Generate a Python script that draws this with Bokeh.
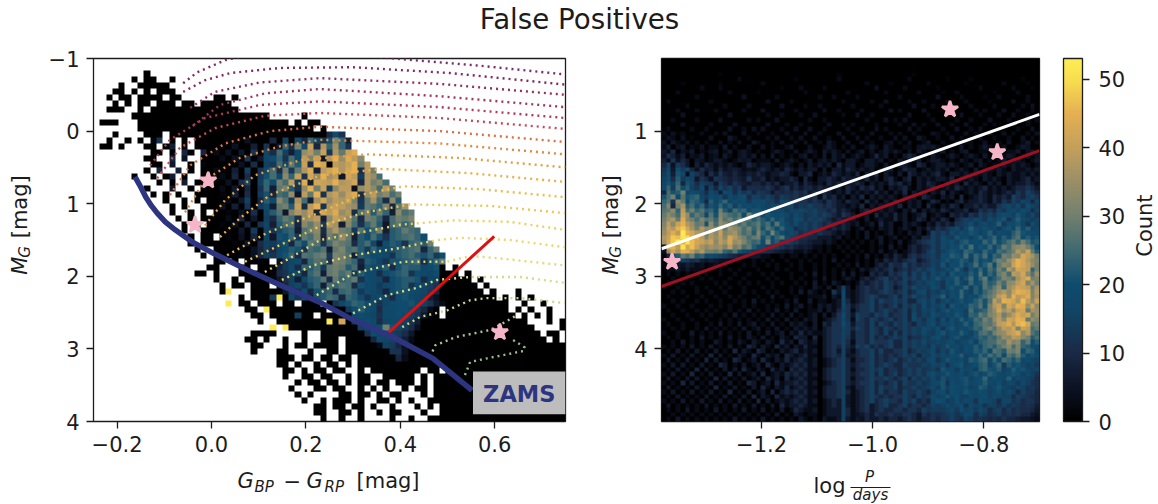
from math import pi
import numpy as np
from bokeh.core.properties import value
from bokeh.embed import file_html
from bokeh.layouts import column, row
from bokeh.models import ColorBar, FixedTicker, Label, LinearColorMapper, Range1d
from bokeh.plotting import figure
from bokeh.resources import INLINE

TITLE = "False Positives"
CMD_TICKS_X = [-0.2, 0.0, 0.2, 0.4, 0.6]
CMD_TICKS_Y = [-1, 0, 1, 2, 3, 4]
PER_TICKS_X = [-1.2, -1.0, -0.8]
PER_TICKS_Y = [1, 2, 3, 4]
CB_TICKS = [0, 10, 20, 30, 40, 50]
COUNT_MAX = 53

# Cell counts, one character per cell, base 36, in steps of 1.5 counts. Blank = empty bin.
CMD_ROWS = [
"", "",
"        0",
"      0 00|  0",
"    0  000|00",
"   00 0 0 |000",
"  0 00 000|0 00     0|0 0",
"   0 0 00 |000 00 000|00",
"  000  0 0|0000000000|000",
"      0000|0000000000|00000000  |   0",
" 000   000|0000000000|0000000000|0 0 00",
"       000|0000000000|0000000000|00000 0",
"   0    00|0 00000000|0000000000|00000007d8",
"  0  0 0 1|8 0 0 0000|0100300060|a0c6ga8dlg|5",
" 00 0   00| 05 0 0000|1030050804|g7kcr6pgog|8",
"         0|0 0 60 602|0304080b7h|a5cnpkr9pj|rt",
"        00|  6 3  000|2030804bdg|8hcqlr4pun|tqm",
"         0|0 4  0 100|0103070a9h|cjfr7us0qp|rukq",
"        0 |6  5 0 002|1050a08ch7|k9jpt5qsup|su7qk",
"      0  0| 05 0  010|2060709ehc|mgr8snuoq4|sq9pnh",
"          |0 0 5 00 0|0307b0agdk|hq9t5srqup|qs6pkmh",
"        0 |  4  0 100|2040608g5j|lf8nukr9mq|q3npmhqk",
"         0| 0 0  0000|1050709e6h|gn4qju8prn|rt7nqkmhk",
"          | 0  0 0 00|0204a06fcm|i9ph5osnqp|rl8joh7mf",
"          |  0 0  000|3050809c5j|kfr7qu8prq|on9jigl6jo",
"          |  0  0 0 0|0103070bfi|4lpnr6sqtn|p7ilfkg5mh|j",
"          |   0 0 000|0206040a7g|jh8noq5mrp|ni7kjg6hkj|l",
"          |    0 0 00|1030608b5f|hi6mjn9qo5|mh8gjf4hjg|i",
"          |    0  000|0104090a8c|fg5ikm7lpk|j9iegk5fgj|hg",
"          |     0 00 |0103060b4e|dg9jhl6kin|j5fdhe8fgh|igd",
"          |     0 000|0010407a9c|e6gdji8hlj|i7fhc5dfe8|ghfk",
"          |      0  0|0001036a7b|dfe8hgi5jl|hif9gdcefg|hi6gj",
"          |       0 0|0001036a8c|eg7ihjk9lk|i5feddc8fg|hfeg9d",
"          |         0|0 0 0010 3|9bd6gih8lk|ig6feb8eef|gh7egj",
"          |        00|   00 0016|9c7gfh9jkj|fh5ecdf7eg|ffcde0 0",
"          |      00 0|   0000017|8bd6gi5jkh|j9fdc7defg|8dcbd000 0",
"          |         0|  0 000014|7a5cfgi7jg|hj8dcb6def|fe7ba00000| 0",
"          |          |0 00 000 3|6ac8eg5hgi|h7ecc9cdef|8cba800000|0 0",
"          |          |0z   00000|4a8d6efg7g|hf9dca6dee|dcb9600000|00 0   0",
"          |          |   0 0009z|0c8d5efhg6|gfd8bcb7de|cba5300000|0000 0 0 0",
"          |          | z 00 000 |00 000 08c|egfdc8bcdd|eba8420000|000000  0 | 0",
"          |          |    00 z00|0000000 00|9dfdc7ccdd|b9620 0000|000000 0 0|  0",
"          |          |     00 00|00a00 0000|0cdcb8ccdc|a8410 0000|0000000 0 |0 0",
"          |          |      0  0|0000000z0s|09cdc7bcca|8500000000|000000000 |  0 0",
"          |          |        z |z000000000|00acbdkeb9|7300000000|0000000000|    0",
"          |          |     0000 |   0  0000|0008dbda97|4000000000|0000000000|0 00",
"          |          |    00 0  |0  0  000 |00006cba85|2000000000|0000000000|00 0 ",
"          |          |     00   |0 00 0000 |000002a963|1000000000|0000000000|00000",
"          |          |     0   0|0   0  00 |0000000883|0000000000|0000000000|00000",
"          |          |         0|00 00 00 0|0 00000062|0000000000|0000000000|00000",
"          |          |         0|0 0  0 00 |0 00000000|0000000000|0000000000|00000",
"          |          |          |00 0 00 00|  0 000000|00 00 0000|0000000000|00000",
"          |          |          |0  00 00  |0 00  0000|0 0 000000|0000000000|00000",
"          |          |          |  0 00 00 |0 00 00 00|0 0 000000|0000000000|00000",
"          |          |          | 0   00 00|  0 0 0  0| 00 000000|0000000000|00000",
"          |          |          |  0 0    0|0 00 0 00 |  0 000000|0000000000|00000",
"          |          |          |   0  0 00|0 0  00 0 |0  0000000|0000000000|00000",
"          |          |          |     00 00| 00 0  0  | 0 0 00000|0000000000|00000",
"          |          |          |     00  0|0 0  0 00 |  0  00000|0000000000|00000",
"          |          |          |      0  0|  0    0  |0  0000000|0000000000|00000",
]

PER_ROWS = [
"", "", "",
"0000000000|0010000000|0000000000|0000000100|0000000000|0001000000|0000000000|0000000000",
"0000000000|0000002000|0000000010|0000000200|0000000000|0020000000|1000010000|0000001000",
"0000100000|0010000000|0200000000|0000000000|0002000010|0000002000|0000100000|0020000100",
"0000000020|0020000000|0000010002|0000200000|0000030000|0200000010|0000000200|0000200010",
"0002000000|0000200000|1000000000|2000000002|0000000200|0000200001|0020000000|1000020000",
"0000000200|0000000300|0000200000|0002002000|0200000000|2000000030|0002000010|0200000200",
"0200000000|2000000000|0030000200|0000000020|0000200300|0020020000|2000200001|0000300200",
"0000020000|0002000020|0000030000|2002000000|2000002000|0003000201|0000020000|2000002030",
"0002000200|0200000200|0300000020|0000300200|0020000030|2000030000|0200002020|0030020020",
"0000300000|0000300000|0020020002|0030000020|0300200000|0030002000|2003000200|0200300200",
"0020000200|0030000020|2000300000|0200200000|0002000302|0300000200|0020020003|0002000302",
"0000300000|2000030000|0030002002|0000030020|2000020000|2003020030|0200300020|2000300200",
"0200002002|0000300203|0300020030|0300200002|0020030200|0030200002|0030020300|0200020030",
"2031200020|0203000300|2002003000|3002000300|2000300020|2002000320|2000302003|0030200203",
"1320301000|3000420020|0020300203|0030020030|0302002003|0300420020|0302000300|2002003020",
"3042130202|0030203004|2002030020|3002042003|0030200230|2030024002|0030220030|0203002402",
"2503402130|2204020030|0302002400|0300242020|3002420420|0220343420|2004020242|0030024300",
"4260324021|3402403420|2002420030|2420424203|0240302424|2030420024|0203400220|2402240340",
"3752503240|2304203424|0304020203|4020404240|2420262402|0464020420|2420242040|2024302403",
"5283640431|2442024340|2220402420|2403424204|4204424020|4242402442|0204203402|0240242024",
"6a39740526|4242420264|2442024203|0424240624|4024420402|4420640244|2420240420|2042424202",
"8b4d9c6374|5263454232|4642426424|2440404426|4242402440|2644024242|4024204024|2420422424",
"9d5eb3a862|7485464354|6424465204|4602426424|2604260420|4064242462|0442424242|0424224242",
"ad7f9ca486|3876565484|4624244640|6204464264|4226240462|0460424244|2604242042|4204224624",
"beag6eb7a9|8497586546|6464624462|6424264624|4640424264|6240426420|4240624204|2404244642",
"cg9hdfa8c5|a6b8a79477|7686468464|6646442426|4264624042|4620424602|4264242462|4242466864",
"6hefkbdca7|ca5cb7b8a6|9874767686|8464642426|2424262404|2604240426|0420242642|4246486a86",
"ehkciefgb9|dbd8cacd7a|a8a8698786|6682846240|4260424242|0424064204|2406024642|6464a869a8",
"gi8mjcgfd6|fbegbdbc9c|bcaa7ba898|8686486426|4406240426|0242402640|2046244642|6486a8ba6a",
"hl6kofheg9|ecgdfaecdb|dbacb8ab79|8a88686442|4260424242|6042406204|2640446464|48ab9c8da9",
"ijmgqhkgif|gdkfbhfgce|ecdacb9bab|a9a8868464|2046204242|0426042426|4244624868|6a8bcadb7a",
"jmkhrngjhb|ieljhgidkf|gbedcdb9ca|89a8a86486|4024062426|2402460242|0646486a8a|8bdcaeb9c8",
"knpjtmkhli|jgmikhkgif|hfdgcea9db|8a9a864642|4204024226|2402640426|4068a9ba8c|ade8cfcb9a",
"lqmrupnjke|mhnlikhjgh|jfhdieb9c9|a8a8686464|2402406240|0424204264|6489ad9bca|bf9dceb8da",
"mrpuwsokpm|nkqjomlhkg|jeigdgcb79|a8a8646464|0240204240|2420426486|8ac8bfcbdb|c9debgcfab",
"nqtqzuspoj|pmrlnokhjf|lgekfdaca7|9868664242|0204020240|2042404a8a|8cadbedacf|adcbfhedcb",
"prwvyxtuql|pnqmspmkhj|kehdgica97|7664442402|0204024024|0204266a8c|a9ebcadfbe|gbfdgidfce",
"oswzuyvsrp|rmqosnolig|hdkdfac986|6544242020|2020204020|4024689a8c|bdaefcdcge|hdfhjgkhef",
"4tuqysvrom|onolqkmhjf|dcaa986754|5422020202|0200202040|2046467a8c|adcfdhcedg|cfjhlmnkhd",
"3nroutqmpk|kjlgfieba9|9876543422|4202020020|2020204024|0246469b8a|cedbgfdcge|dhgikpmrjf",
"16dfjhkfgc|dba9765644|4220020220|2020202002|0204020426|4268689a8d|cfedhbgehc|gfkjnmsqok",
"1268a97854|5433322002|0202002002|0200204020|0202042646|4689468a9c|ebdfeagced|hkjnquspml",
"1224354231|2322000202|0020200202|0020200202|0402046486|6a68688a9e|9dcfbehdfi|djmlrusqnk",
"0224242220|2020202000|2000202002|0020202020|2042464684|6868a8ac9a|dbfc8ecgdh|fkhpmsrqgk",
"0202020202|0020020020|0202000200|2040202040|4020646486|8a6a8b8cad|9ecdbfdicg|ejlhqpsmin",
"0020200020|2000200200|0020200202|0020402024|2046468a68|6a8a8c9bea|cdfaehcgjd|fhlkiortkl",
"0200202000|0202002020|2002020020|2040204202|0264686a86|8a68a9bca8|dbfcagdeif|gkhmnqslok",
"2002000202|0020200200|0202000202|00420404a4|0468686a84|6a8c9a9db8|cebdgafcig|jmgnpsrqko",
"0020200200|2002000202|0020200204|04202084b4|2468668a86|8a68bc8a9c|adbgcafdgi|knpmrutslp",
"0200020020|0200202000|2004020020|02224042c4|2468a8668a|6a8c9a8bcf|9dcgbdcfhj|lqsnuqrtlo",
"0020200202|0020020204|0202002040|04022024b6|2468a6a88a|8a66ac9c8b|dacebdfhei|qnutspvqmr",
"2002002000|2020200202|0020204024|02042424b8|4688a6868a|6a8a8c9bad|8ecbdgfiek|prlsqutnrm",
"0200200202|0200202040|2020402040|02240426a8|2688a68a86|8a6a8bac9c|ebdcahefgk|nsoqmrsjon",
"0020020020|2002040202|0204020402|02404048c8|4a886a8a68|8a6c8a9dba|cbedagfjhl|mpknqtrskn",
"2002002002|0020202020|2040204020|42402468b8|2a86a868a6|8a6ca8bc8d|9dbfcehgki|nqmsrutjnl",
"0200200200|2040204024|0204020424|20406488c9|4886a6a86a|8a86a9bd9c|bdacfdghji|lqrtpuvsjk",
"0020200204|0202020402|4020402042|42404688a9|6a86a86a86|8a8a9cbad8|cebdcegfjl|imqpslrqhj",
"2002004020|2040202040|2040240426|24224688a9|4886a86a6a|6a8a9ca9ce|acbfdaehig|kmnqrtmpig",
"0202002040|2020402042|0402042064|40604688a8|4886a6868a|8a688a9cda|9cebacegfh|gjnmqpmkfh",
"0020402020|0420204204|2042062406|42404688a7|2886a888a6|6a8a9c9aba|cdabceafgh|hkjolmgjdf",
"2020204020|4020402064|0420624042|62204686a6|4a8a6868a6|6a8a9a8c9a|ebcadcfdgh|fikmhlgfdc",
"0204020402|0402060420|6402042462|42404684a5|2688a6a668|8a68a9ac8b|9ebadcfegd|ihfkjldgfb",
"2040204020|6040204206|2042406424|62204686a4|4688a68686|8a8a6a9cac|adcfabdgeh|fhdigjfced",
"0402040206|0402064024|0620426246|42402468a6|2668a6868a|68a8a8bc8a|ecbdafeghc|gdhgegcdba",
"2040402040|2064020402|4062042464|62402468a6|4688a68a86|6a888a9bac|8bdeacdfgb|eg9fdecab9",
"0204020604|0204040620|4206240646|42204688a6|2668a8a688|68a8a89a8e|bc9dbcafge|dfacfdebab",
"2040206020|4020604024|0602426464|62404688a6|4688a6a68a|68a8a8bdab|ecbdacebdf|ecbdedaca8",
"0402040402|0604020402|4062406246|42204688a6|2668a88a86|8a6a8a9c9e|acbdeacdgb|dcbfacba97",
"2020604020|4020402064|0240624464|62402468a6|4688a6868a|6a88a89bce|8dbcebcdfc|bdacb9ca87",
"0402020402|0602040204|0620426246|42204668a4|2668a6a88a|688a89ac9e|adcbdabfea|ceba9ba897",
"2040204020|4020602040|2406046464|62404668a6|2468a6a688|6a88a86acd|9dcbecbdca|bdaca7a886",
"0204020204|0204020406|0420624246|42204668a4|2468a86868|8a86a89cab|ebdaacbcda|cbaa7a9876",
"2020402040|2040204020|6040242464|62402464a4|2468a68a88|6a8a686bdc|9adacb8dcb|a7bb897886",
"0402020204|0202040204|0204062446|42202464a4|2468468a66|8a68868a9a|cabd8cab8a|a8a8987875",
"0202040202|0402020402|0402040264|22402444a6|2468468668|86886a8999|ab9dab9ca7|9a79787764",
"0020202020|2020202020|2020402042|02202444a6|2346486686|6886486878|9a89cb7a97|8978786643",
"0204020202|0202040202|0402020204|20204224a4|2436446466|4686466868|8a87a97876|7686654432",
]

ISO_X = [
 [-0.06,-0.03,0.03,0.09,0.2,0.385,0.57,0.75],
 [-0.06,-0.014,0.04,0.145,0.30,0.505,0.75],
 [-0.045,0.007,0.103,0.23,0.484,0.75],
 [-0.04,0.018,0.113,0.23,0.484,0.75],
 [-0.13,-0.088,-0.014,0.103,0.23,0.484,0.75],
 [-0.115,-0.067,0.007,0.113,0.23,0.484,0.75],
 [-0.088,-0.045,0.029,0.124,0.23,0.484,0.75],
 [-0.056,-0.014,0.06,0.145,0.23,0.484,0.75],
 [-0.014,0.029,0.092,0.188,0.329,0.527,0.75],
 [0.018,0.06,0.124,0.23,0.363,0.548,0.75],
 [0.033,0.118,0.23,0.315,0.406,0.569,0.749],
 [0.071,0.145,0.23,0.325,0.42,0.59,0.749],
 [0.113,0.166,0.23,0.321,0.40,0.512,0.632,0.749],
 [0.149,0.215,0.30,0.40,0.478,0.527,0.632,0.749],
 [0.223,0.30,0.406,0.499,0.548,0.605,0.749],
 [0.30,0.372,0.435,0.478,0.548,0.654,0.749],
 [0.404,0.442,0.499,0.548,0.584,0.654,0.749],
 [0.463,0.474,0.516,0.59,0.622,0.643],
 [0.537,0.548,0.584,0.66,0.664,0.632],
]
ISO_Y = [
 [-0.66,-0.81,-0.98,-1.06,-1.1,-1.0,-0.9,-0.78],
 [-0.54,-0.70,-0.80,-0.87,-0.88,-0.80,-0.64],
 [-0.32,-0.54,-0.67,-0.73,-0.65,-0.50],
 [-0.07,-0.36,-0.52,-0.58,-0.48,-0.33],
 [0.47,0.12,-0.18,-0.36,-0.41,-0.33,-0.18],
 [0.65,0.23,-0.04,-0.21,-0.25,-0.18,-0.03],
 [0.88,0.47,0.17,0.0,-0.06,0.0,0.15],
 [1.12,0.675,0.37,0.21,0.12,0.17,0.32],
 [1.30,0.95,0.61,0.40,0.32,0.37,0.50],
 [1.46,1.20,0.88,0.61,0.52,0.58,0.70],
 [1.71,1.40,1.12,0.88,0.76,0.80,0.91],
 [1.80,1.57,1.31,1.12,1.01,1.03,1.13],
 [1.94,1.75,1.50,1.39,1.29,1.23,1.25,1.36],
 [2.05,1.85,1.71,1.61,1.50,1.47,1.50,1.60],
 [2.26,1.96,1.80,1.80,1.72,1.75,1.85],
 [2.51,2.26,2.16,2.05,2.01,2.01,2.09],
 [2.70,2.56,2.47,2.33,2.30,2.30,2.37],
 [3.11,2.95,2.84,2.74,2.63,2.55],
 [3.36,3.18,3.13,3.03,2.98,2.85],
]
ISO_COLORS = ["#7a2a66","#86295f","#92305f","#a0345c","#b2395a","#c94a56","#dd7040","#e58a3c",
              "#ea9d3c","#edb040","#eebd48","#eec850","#ecd25c","#e8d968","#e2dc74","#d8dc80",
              "#c6d68a","#a8c890","#96bf8e"]

ZAMS_X = [-0.162,-0.15,-0.139,-0.127,-0.115,-0.098,-0.077,-0.04,0.003,0.075,0.145,0.23,0.30,0.385,0.469,0.552]
ZAMS_Y = [0.63,0.77,0.91,1.03,1.13,1.25,1.36,1.53,1.68,1.91,2.12,2.36,2.60,2.84,3.13,3.57]
CUT_X = [0.376, 0.599]
CUT_Y = [2.77, 1.45]
STAR_COLOR = [-0.007, -0.035, 0.611]
STAR_MAG = [0.68, 1.29, 2.77]
STAR_LOGP = [-0.861, -0.776, -1.361]
STAR_MAG2 = [0.70, 1.29, 2.80]
WHITE_X = [-1.38, -0.70]
WHITE_Y = [2.62, 0.77]
DARKRED_X = [-1.38, -0.70]
DARKRED_Y = [3.14, 1.27]

CMAP_STOPS = [0, 5, 10, 16, 20, 25, 30, 35, 40, 45, 50, 53]
CMAP_COLORS = ["#000000", "#0d1425", "#1b2a47", "#124565", "#0f4c6e", "#3f6a72",
               "#72806f", "#9a8f68", "#c4a05c", "#e5b052", "#f9de50", "#ffee55"]
FONT = "DejaVu Sans"
INK = "#1c1c1c"
UPSCALE = 8
BASELINE_SHIFT = 0.38


def palette():
    rgb = np.array([[int(c[i:i + 2], 16) for i in (1, 3, 5)] for c in CMAP_COLORS], float)
    t = np.linspace(0, COUNT_MAX, 256)
    ch = [np.interp(t, CMAP_STOPS, rgb[:, k]) for k in range(3)]
    return ["#%02x%02x%02x" % (int(r), int(g), int(b)) for r, g, b in zip(*ch)]


def parse(rows, ncol, pad):
    out = []
    for rw in rows:
        s = rw.replace("|", "").ljust(ncol, pad)[:ncol]
        out.append([np.nan if ch == " " else int(ch, 36) * 1.5 for ch in s])
    arr = np.array(out, float)
    # repeat each bin so that the browser's resampling keeps the cells square
    return np.repeat(np.repeat(arr, UPSCALE, axis=0), UPSCALE, axis=1)


mapper = LinearColorMapper(palette=palette(), low=0, high=COUNT_MAX, nan_color=(0, 0, 0, 0))


def style(p, xt, yt, xover, yover):
    p.grid.visible = False
    p.outline_line_color = "#1c1c1c"
    p.outline_line_width = 1.3
    p.background_fill_color = "white"
    p.xaxis.ticker = FixedTicker(ticks=xt)
    p.yaxis.ticker = FixedTicker(ticks=yt)
    p.xaxis.major_label_overrides = xover
    p.yaxis.major_label_overrides = yover
    for ax in (p.xaxis[0], p.yaxis[0]):
        ax.major_label_text_font = FONT
        ax.major_label_text_font_size = "21px"
        ax.major_label_text_color = INK
        ax.major_tick_line_color = INK
        ax.major_tick_line_width = 1.3
        ax.major_tick_out = 7
        ax.major_tick_in = 0
        ax.minor_tick_line_color = None
        ax.axis_line_color = None
        ax.major_label_standoff = 7


def strip(w, h):
    s = figure(width=w, height=h, x_range=Range1d(0, w), y_range=Range1d(h, 0), toolbar_location=None,
               output_backend="svg", x_axis_location=None, y_axis_location=None,
               min_border=0, min_border_left=0, min_border_right=0, min_border_top=0, min_border_bottom=0)
    s.outline_line_color = None
    s.grid.visible = False
    return s


def lab(p, x, y, t, size=21, italic=False, angle=0.0, align="left"):
    # the page draws these labels a little past the given baseline, so place them earlier
    if angle:
        x -= BASELINE_SHIFT * size
    else:
        y -= BASELINE_SHIFT * size
    p.add_layout(Label(x=x, y=y, text=t, text_font=FONT, text_font_size=f"{size}px",
                       text_font_style="italic" if italic else "normal", text_color=INK,
                       angle=angle, text_align=align, text_baseline="alphabetic"))


# title strip
p0 = strip(1158, 40)
lab(p0, 579, 30, TITLE, size=27.7, align="center")

# left panel
p1 = figure(frame_width=472, frame_height=363, x_range=Range1d(-0.25, 0.75), y_range=Range1d(4, -1),
            toolbar_location=None, output_backend="svg", min_border_left=57, min_border_right=25,
            min_border_top=18, min_border_bottom=47)
style(p1, CMD_TICKS_X, CMD_TICKS_Y,
      {-0.2: "\u22120.2", 0: "0.0", 0.2: "0.2", 0.4: "0.4", 0.6: "0.6"}, {-1: "\u22121"})
p1.image(image=[parse(CMD_ROWS, 75, " ")], x=-0.25, y=-1, dw=1, dh=5, color_mapper=mapper)
for xs, ys, c in zip(ISO_X, ISO_Y, ISO_COLORS):
    p1.line(xs, ys, line_color=c, line_width=2.4, line_dash="2 4")
p1.line(ZAMS_X, ZAMS_Y, line_color="#2e3580", line_width=5.5)
p1.line(CUT_X, CUT_Y, line_color="#e01010", line_width=3)
p1.star(STAR_COLOR, STAR_MAG, size=17, fill_color="#f7b5c8", line_color="#f7b5c8", line_width=2.5)
p1.quad(left=[0.554], right=[0.75], top=[3.31], bottom=[3.90], fill_color="#bdbdbd", line_color=None)
p1.text([0.652], [3.62], text=["ZAMS"], text_font=value(FONT), text_font_style="bold", text_font_size="22.5px",
        text_color="#2e3580", text_align="center", text_baseline="middle")

# right panel
p2 = figure(frame_width=378, frame_height=363, x_range=Range1d(-1.38, -0.70), y_range=Range1d(5, 0),
            toolbar_location=None, output_backend="svg", min_border_left=36, min_border_right=91,
            min_border_top=18, min_border_bottom=47)
style(p2, PER_TICKS_X, PER_TICKS_Y, {-1.2: "\u22121.2", -1.0: "\u22121.0", -0.8: "\u22120.8"}, {})
p2.image(image=[parse(PER_ROWS, 80, "0")], x=-1.38, y=0, dw=0.68, dh=5, color_mapper=mapper)
p2.line(WHITE_X, WHITE_Y, line_color="white", line_width=3)
p2.line(DARKRED_X, DARKRED_Y, line_color="#a01020", line_width=3)
p2.star(STAR_LOGP, STAR_MAG2, size=17, fill_color="#f7b5c8", line_color="#f7b5c8", line_width=2.5)
cb = ColorBar(color_mapper=mapper, ticker=FixedTicker(ticks=CB_TICKS), width=19, padding=0, margin=0,
              location=(24, 0), major_tick_out=7, major_tick_in=0, major_tick_line_color=INK,
              major_tick_line_width=1.3, minor_tick_line_color=None, bar_line_color=INK, bar_line_width=1.3,
              label_standoff=9, major_label_text_font=FONT, major_label_text_font_size="21px",
              major_label_text_color=INK)
p2.add_layout(cb, "right")

# strips holding the axis labels that mix italic, subscript and upright pieces
yl1 = strip(36, 428)
lab(yl1, 27, 255, "M", italic=True, angle=pi / 2)
lab(yl1, 30, 235, "G", size=15, italic=True, angle=pi / 2)
lab(yl1, 27, 212, "[mag]", angle=pi / 2)

yl2 = strip(35, 428)
lab(yl2, 28, 255, "M", italic=True, angle=pi / 2)
lab(yl2, 31, 235, "G", size=15, italic=True, angle=pi / 2)
lab(yl2, 28, 212, "[mag]", angle=pi / 2)

cl = strip(28, 428)
lab(cl, 22, 197, "Count", angle=pi / 2, align="center")

bot = strip(1158, 36)
lab(bot, 237, 20, "G", italic=True)
lab(bot, 254, 24, "BP", size=15, italic=True)
lab(bot, 283, 20, "\u2212")
lab(bot, 306, 20, "G", italic=True)
lab(bot, 324, 24, "RP", size=15, italic=True)
lab(bot, 356, 20, "[mag]")
lab(bot, 813, 25, "log")
lab(bot, 869, 14, "P", size=15, italic=True, align="center")
bot.line([850, 890], [19, 19], line_color=INK, line_width=1.2)
lab(bot, 870, 32, "days", size=15, italic=True, align="center")

page = column(p0, row(yl1, p1, yl2, p2, cl, spacing=0), bot, spacing=0)
open("out.html", "w").write(file_html(page, INLINE))
